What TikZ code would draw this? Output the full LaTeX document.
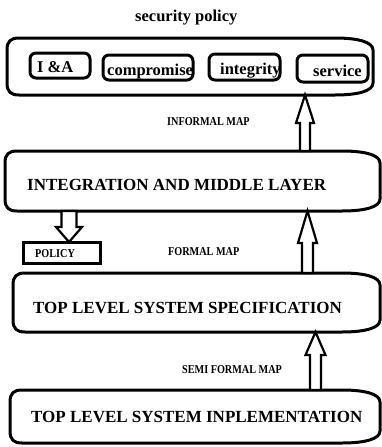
\documentclass[tikz,border=0pt]{standalone}
\usepackage{fontspec}
\setmainfont{Liberation Serif}
\usetikzlibrary{calc}

% Scroll-like frame: small round corners on the left, wide flared corners on the right
\newcommand{\scrollframe}[1]{%
  \draw[frameline]
    ($(#1.north west)+(0,12)$) .. controls ($(#1.north west)+(0,3)$) and ($(#1.north west)+(4,0)$) .. ($(#1.north west)+(12,0)$)
    -- ($(#1.north east)+(-38,0)$) .. controls ($(#1.north east)+(-15,0)$) and ($(#1.north east)+(0,4)$) .. ($(#1.north east)+(0,12)$)
    -- ($(#1.south east)+(0,-12)$) .. controls ($(#1.south east)+(0,-4)$) and ($(#1.south east)+(-15,0)$) .. ($(#1.south east)+(-38,0)$)
    -- ($(#1.south west)+(12,0)$) .. controls ($(#1.south west)+(4,0)$) and ($(#1.south west)+(0,-3)$) .. ($(#1.south west)+(0,-12)$)
    -- cycle;}

% Hollow block arrow: #1 start, #2 tip, #3 half shaft, #4 half head, #5 signed head length
\newcommand{\blockarrow}[5]{%
  \draw[arrowline] let \p1=(#1), \p2=(#2) in
    ({\x1-(#3pt)},\y1) -- ({\x1-(#3pt)},{\y2-(#5pt)}) -- ({\x1-(#4pt)},{\y2-(#5pt)})
    -- (\x2,\y2)
    -- ({\x1+(#4pt)},{\y2-(#5pt)}) -- ({\x1+(#3pt)},{\y2-(#5pt)}) -- ({\x1+(#3pt)},\y1) -- cycle;}

\newcommand{\maplabel}[1]{\scalebox{0.85}[1]{#1}}

\begin{document}
\begin{tikzpicture}[x=1pt,y=-1pt,
  frameline/.style={line width=3pt,line join=round},
  arrowline/.style={line width=2.2pt,line join=miter,fill=white},
  holder/.style={rectangle,draw=none,inner sep=0,outer sep=0,anchor=north west},
  tagbox/.style={rectangle,draw,line width=3pt,rounded corners=6pt,inner sep=0,outer sep=0,anchor=north west},
  bigtext/.style={font=\fontsize{17}{17}\selectfont\bfseries,inner sep=0,anchor=base west},
  tagtext/.style={font=\fontsize{16.5}{16.5}\selectfont\bfseries,inner sep=0,anchor=base west},
  smalltext/.style={font=\fontsize{12}{12}\selectfont\bfseries,inner sep=0,anchor=base west}]

\useasboundingbox[fill=white] (0,0) rectangle (382,447);

% title
\node[tagtext] (title) at (135,21) {security policy};

% layer frames
\node[holder,minimum width=366pt,minimum height=57pt] (secpol) at (7,38) {};
\node[holder,minimum width=375pt,minimum height=60pt] (mid) at (5,151) {};
\node[holder,minimum width=367pt,minimum height=59pt] (spec) at (13,273) {};
\node[holder,minimum width=370pt,minimum height=53pt] (impl) at (10,390) {};
\scrollframe{secpol}
\scrollframe{mid}
\scrollframe{spec}
\scrollframe{impl}

% layer captions
\node[bigtext] (midtxt) at (27,190) {INTEGRATION AND MIDDLE LAYER};
\node[bigtext] (spectxt) at (33,313) {TOP LEVEL SYSTEM SPECIFICATION};
\node[bigtext] (impltxt) at (31,422) {TOP LEVEL SYSTEM INPLEMENTATION};

% policy items
\node[tagtext] (iatxt) at (37,72) {I \&A};
\node[tagtext] (comptxt) at (107,75) {compromise};
\node[tagtext] (integtxt) at (220,74) {integrity};
\node[tagtext] (servtxt) at (313,76) {service};
\node[tagbox,minimum width=60pt,minimum height=25pt] (ia) at (30,53) {};
\node[tagbox,minimum width=90pt,minimum height=25pt] (comp) at (103,55) {};
\node[tagbox,minimum width=71pt,minimum height=26pt] (integ) at (209,54) {};
\node[tagbox,minimum width=71pt,minimum height=27pt] (serv) at (297,55) {};

% policy output box
\node[holder,draw,line width=3pt,minimum width=77pt,minimum height=21pt] (pol) at (23,242) {};
\node[smalltext] (poltxt) at (35,257) {\maplabel{POLICY}};

% map labels
\node[smalltext] (informal) at (167,125) {\maplabel{INFORMAL MAP}};
\node[smalltext] (formal) at (168,255) {\maplabel{FORMAL MAP}};
\node[smalltext] (semiformal) at (182,373) {\maplabel{SEMI FORMAL MAP}};

% block arrows between layers
\blockarrow{305,0 |- mid.north}{305,0 |- secpol.south}{5}{9}{28}
\blockarrow{307.5,0 |- spec.north}{307.5,0 |- mid.south}{5.5}{9.5}{32}
\blockarrow{315.5,0 |- impl.north}{315.5,0 |- spec.south}{5.5}{10}{23}
\blockarrow{69,0 |- mid.south}{69,0 |- pol.north}{7.5}{13}{-15}
\end{tikzpicture}
\end{document}
